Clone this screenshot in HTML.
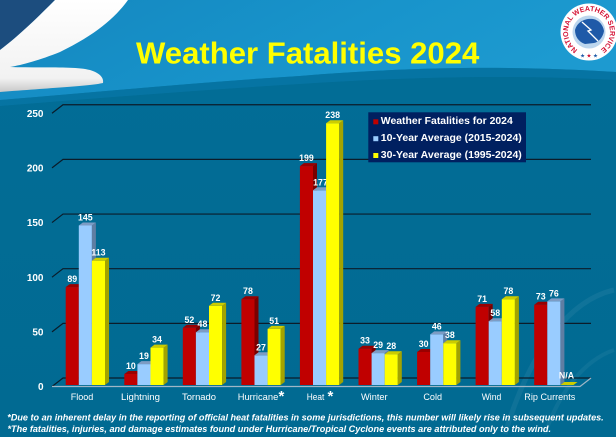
<!DOCTYPE html>
<html><head><meta charset="utf-8"><style>
html,body{margin:0;padding:0;background:#006c94;width:616px;height:437px;overflow:hidden;}
svg{display:block;font-family:"Liberation Sans",Arial,sans-serif;}
.r{fill:#c00000}.rs{fill:#7a0000}.rt{fill:#9a0000}
.b{fill:#99ccff}.bs{fill:#5f7ea3}.bt{fill:#7d9cc4}
.y{fill:#ffff00}.ys{fill:#a3a300}.yt{fill:#cccc00}
.v{fill:#fff;font-size:8.8px;font-weight:bold;text-anchor:middle}
.yl{fill:#fff;font-size:10px;font-weight:bold;text-anchor:end}
.c{fill:#fff;font-size:9.5px;text-anchor:middle}
.g{stroke:#0b1c2a;stroke-width:1.2;fill:none}
</style></head><body>
<svg width="616" height="437" viewBox="0 0 616 437" xmlns="http://www.w3.org/2000/svg">
<defs>
<linearGradient id="top" x1="0" y1="0" x2="1" y2="0.3">
<stop offset="0" stop-color="#1487bf"/><stop offset="0.6" stop-color="#1894cb"/><stop offset="1" stop-color="#1d9ad0"/>
</linearGradient>
<linearGradient id="low" x1="0" y1="0" x2="0" y2="1">
<stop offset="0" stop-color="#0576a2"/><stop offset="0.15" stop-color="#026d96"/><stop offset="1" stop-color="#016a92"/>
</linearGradient>
<linearGradient id="wh" x1="0" y1="0" x2="0" y2="1">
<stop offset="0" stop-color="#ffffff"/><stop offset="0.85" stop-color="#f2f2f2"/><stop offset="1" stop-color="#c8c8c8"/>
</linearGradient>
</defs>
<rect x="0" y="0" width="616" height="437" fill="url(#low)"/>
<path d="M0,0 L616,0 L616,72 C520,66 420,66 300,76 C200,82 100,92 0,100 Z" fill="url(#top)"/>
<path d="M0,100 C100,92 200,82 300,76 C420,66 520,66 616,72 L616,80 C520,75 420,76 300,84 C200,90 100,98 0,106 Z" fill="#0a7aab" opacity="0.6"/>
<path d="M505,434 C530,350 570,300 614,290" fill="none" stroke="#ffffff" stroke-opacity="0.06" stroke-width="5"/>
<path d="M545,434 C560,390 585,360 614,350" fill="none" stroke="#ffffff" stroke-opacity="0.05" stroke-width="4"/>
<path d="M0,0 L55,0 C40,15 20,35 0,50 Z" fill="#1c4d7e"/>
<path d="M55,0 L128,0 C115,18 95,35 60,52 C40,60 22,65 10,67 C40,68 75,66 90,70 C100,73 104,78 103,83 C90,86 50,88 0,92 L0,50 C20,35 40,15 55,0 Z" fill="url(#wh)"/>
<circle cx="589" cy="32" r="28.5" fill="#ffffff"/>
<circle cx="589" cy="32" r="16.5" fill="#bcd6ee"/>
<path d="M575,30 C577,22 585,18 593,19 C599,20 603,25 604,31 C603,37 599,42 594,43 L585,44 C579,42 575,37 575,30 Z" fill="#1f5aa8"/>
<path d="M582,22 L591,30 L588,31 L598,41" fill="none" stroke="#ffffff" stroke-width="1.3"/>
<path id="ring" d="M578.5,50.2 A21,21 0 1 1 599.5,50.2" fill="none"/>
<text font-size="7.2" font-weight="bold" fill="#d41335"><textPath href="#ring" startOffset="1" textLength="107" lengthAdjust="spacingAndGlyphs">NATIONAL WEATHER SERVICE</textPath></text>
<text x="589" y="57.5" font-size="5.5" fill="#1f5aa8" text-anchor="middle">★ <tspan fill="#d41335">★</tspan> ★</text>
<text x="136" y="63.5" font-size="30.5" font-weight="bold" fill="#ffff00" textLength="343.3" lengthAdjust="spacingAndGlyphs">Weather Fatalities 2024</text>

<g class="g">
<path d="M52,331.85 L63,323.35 L591,323.35"/>
<path d="M52,277.2 L63,268.7 L591,268.7"/>
<path d="M52,222.55 L63,214.05 L591,214.05"/>
<path d="M52,167.9 L63,159.4 L591,159.4"/>
<path d="M52,113.25 L63,104.75 L591,104.75"/>
<path d="M52,386.5 L63,378 L591,378"/>
</g>
<path d="M52,386.5 L580,386.5 L591,378" fill="none" stroke="#9fb6c6" stroke-width="1.2"/>
<text class="yl" x="43.5" y="390.1">0</text>
<text class="yl" x="43.5" y="335.4">50</text>
<text class="yl" x="43.5" y="280.8">100</text>
<text class="yl" x="43.5" y="226.1">150</text>
<text class="yl" x="43.5" y="171.5">200</text>
<text class="yl" x="43.5" y="116.8">250</text>

<rect class="r" x="65.7" y="287.1" width="13.1" height="97.9"/><polygon class="rs" points="78.8,287.1 82.8,284.1 82.8,382 78.8,385"/><polygon class="rt" points="65.7,287.1 69.7,284.1 82.8,284.1 78.8,287.1"/><text class="v" x="72.25" y="282.1">89</text>
<rect class="b" x="78.8" y="225.5" width="13.1" height="159.5"/><polygon class="bs" points="91.9,225.5 95.9,222.5 95.9,382 91.9,385"/><polygon class="bt" points="78.8,225.5 82.8,222.5 95.9,222.5 91.9,225.5"/><text class="v" x="85.35" y="220.5">145</text>
<rect class="y" x="91.9" y="260.7" width="13.1" height="124.3"/><polygon class="ys" points="105,260.7 109,257.7 109,382 105,385"/><polygon class="yt" points="91.9,260.7 95.9,257.7 109,257.7 105,260.7"/><text class="v" x="98.45" y="255.7">113</text>
<rect class="r" x="124.3" y="374" width="13.1" height="11"/><polygon class="rs" points="137.4,374 141.4,371 141.4,382 137.4,385"/><polygon class="rt" points="124.3,374 128.3,371 141.4,371 137.4,374"/><text class="v" x="130.85" y="369">10</text>
<rect class="b" x="137.4" y="364.1" width="13.1" height="20.9"/><polygon class="bs" points="150.5,364.1 154.5,361.1 154.5,382 150.5,385"/><polygon class="bt" points="137.4,364.1 141.4,361.1 154.5,361.1 150.5,364.1"/><text class="v" x="143.95" y="359.1">19</text>
<rect class="y" x="150.5" y="347.6" width="13.1" height="37.4"/><polygon class="ys" points="163.6,347.6 167.6,344.6 167.6,382 163.6,385"/><polygon class="yt" points="150.5,347.6 154.5,344.6 167.6,344.6 163.6,347.6"/><text class="v" x="157.05" y="342.6">34</text>
<rect class="r" x="182.8" y="327.8" width="13.1" height="57.2"/><polygon class="rs" points="195.9,327.8 199.9,324.8 199.9,382 195.9,385"/><polygon class="rt" points="182.8,327.8 186.8,324.8 199.9,324.8 195.9,327.8"/><text class="v" x="189.35" y="322.8">52</text>
<rect class="b" x="195.9" y="332.2" width="13.1" height="52.8"/><polygon class="bs" points="209,332.2 213,329.2 213,382 209,385"/><polygon class="bt" points="195.9,332.2 199.9,329.2 213,329.2 209,332.2"/><text class="v" x="202.45" y="327.2">48</text>
<rect class="y" x="209" y="305.8" width="13.1" height="79.2"/><polygon class="ys" points="222.1,305.8 226.1,302.8 226.1,382 222.1,385"/><polygon class="yt" points="209,305.8 213,302.8 226.1,302.8 222.1,305.8"/><text class="v" x="215.55" y="300.8">72</text>
<rect class="r" x="241.4" y="299.2" width="13.1" height="85.8"/><polygon class="rs" points="254.5,299.2 258.5,296.2 258.5,382 254.5,385"/><polygon class="rt" points="241.4,299.2 245.4,296.2 258.5,296.2 254.5,299.2"/><text class="v" x="247.95" y="294.2">78</text>
<rect class="b" x="254.5" y="355.3" width="13.1" height="29.7"/><polygon class="bs" points="267.6,355.3 271.6,352.3 271.6,382 267.6,385"/><polygon class="bt" points="254.5,355.3 258.5,352.3 271.6,352.3 267.6,355.3"/><text class="v" x="261.05" y="350.3">27</text>
<rect class="y" x="267.6" y="328.9" width="13.1" height="56.1"/><polygon class="ys" points="280.7,328.9 284.7,325.9 284.7,382 280.7,385"/><polygon class="yt" points="267.6,328.9 271.6,325.9 284.7,325.9 280.7,328.9"/><text class="v" x="274.15" y="323.9">51</text>
<rect class="r" x="299.9" y="166.1" width="13.1" height="218.9"/><polygon class="rs" points="313,166.1 317,163.1 317,382 313,385"/><polygon class="rt" points="299.9,166.1 303.9,163.1 317,163.1 313,166.1"/><text class="v" x="306.45" y="161.1">199</text>
<rect class="b" x="313" y="190.3" width="13.1" height="194.7"/><polygon class="bs" points="326.1,190.3 330.1,187.3 330.1,382 326.1,385"/><polygon class="bt" points="313,190.3 317,187.3 330.1,187.3 326.1,190.3"/><text class="v" x="320.5" y="185.3">177</text>
<rect class="y" x="326.1" y="123.2" width="13.1" height="261.8"/><polygon class="ys" points="339.2,123.2 343.2,120.2 343.2,382 339.2,385"/><polygon class="yt" points="326.1,123.2 330.1,120.2 343.2,120.2 339.2,123.2"/><text class="v" x="332.65" y="118.2">238</text>
<rect class="r" x="358.5" y="348.7" width="13.1" height="36.3"/><polygon class="rs" points="371.6,348.7 375.6,345.7 375.6,382 371.6,385"/><polygon class="rt" points="358.5,348.7 362.5,345.7 375.6,345.7 371.6,348.7"/><text class="v" x="365.05" y="343.7">33</text>
<rect class="b" x="371.6" y="353.1" width="13.1" height="31.9"/><polygon class="bs" points="384.7,353.1 388.7,350.1 388.7,382 384.7,385"/><polygon class="bt" points="371.6,353.1 375.6,350.1 388.7,350.1 384.7,353.1"/><text class="v" x="378.15" y="348.1">29</text>
<rect class="y" x="384.7" y="354.2" width="13.1" height="30.8"/><polygon class="ys" points="397.8,354.2 401.8,351.2 401.8,382 397.8,385"/><polygon class="yt" points="384.7,354.2 388.7,351.2 401.8,351.2 397.8,354.2"/><text class="v" x="391.25" y="349.2">28</text>
<rect class="r" x="417.1" y="352" width="13.1" height="33"/><polygon class="rs" points="430.2,352 434.2,349 434.2,382 430.2,385"/><polygon class="rt" points="417.1,352 421.1,349 434.2,349 430.2,352"/><text class="v" x="423.65" y="347">30</text>
<rect class="b" x="430.2" y="334.4" width="13.1" height="50.6"/><polygon class="bs" points="443.3,334.4 447.3,331.4 447.3,382 443.3,385"/><polygon class="bt" points="430.2,334.4 434.2,331.4 447.3,331.4 443.3,334.4"/><text class="v" x="436.75" y="329.4">46</text>
<rect class="y" x="443.3" y="343.2" width="13.1" height="41.8"/><polygon class="ys" points="456.4,343.2 460.4,340.2 460.4,382 456.4,385"/><polygon class="yt" points="443.3,343.2 447.3,340.2 460.4,340.2 456.4,343.2"/><text class="v" x="449.85" y="338.2">38</text>
<rect class="r" x="475.6" y="306.9" width="13.1" height="78.1"/><polygon class="rs" points="488.7,306.9 492.7,303.9 492.7,382 488.7,385"/><polygon class="rt" points="475.6,306.9 479.6,303.9 492.7,303.9 488.7,306.9"/><text class="v" x="482.15" y="301.9">71</text>
<rect class="b" x="488.7" y="321.2" width="13.1" height="63.8"/><polygon class="bs" points="501.8,321.2 505.8,318.2 505.8,382 501.8,385"/><polygon class="bt" points="488.7,321.2 492.7,318.2 505.8,318.2 501.8,321.2"/><text class="v" x="495.25" y="316.2">58</text>
<rect class="y" x="501.8" y="299.2" width="13.1" height="85.8"/><polygon class="ys" points="514.9,299.2 518.9,296.2 518.9,382 514.9,385"/><polygon class="yt" points="501.8,299.2 505.8,296.2 518.9,296.2 514.9,299.2"/><text class="v" x="508.35" y="294.2">78</text>
<rect class="r" x="534.2" y="304.7" width="13.1" height="80.3"/><polygon class="rs" points="547.3,304.7 551.3,301.7 551.3,382 547.3,385"/><polygon class="rt" points="534.2,304.7 538.2,301.7 551.3,301.7 547.3,304.7"/><text class="v" x="540.75" y="299.7">73</text>
<rect class="b" x="547.3" y="301.4" width="13.1" height="83.6"/><polygon class="bs" points="560.4,301.4 564.4,298.4 564.4,382 560.4,385"/><polygon class="bt" points="547.3,301.4 551.3,298.4 564.4,298.4 560.4,301.4"/><text class="v" x="553.85" y="296.4">76</text>
<polygon class="yt" points="560.4,385 564.4,382 577.5,382 573.5,385"/><text class="v" x="566.5" y="378.5">N/A</text>

<text class="c" x="82" y="400" textLength="22.6" lengthAdjust="spacingAndGlyphs">Flood</text>
<text class="c" x="140.5" y="400" textLength="39" lengthAdjust="spacingAndGlyphs">Lightning</text>
<text class="c" x="199" y="400" textLength="34" lengthAdjust="spacingAndGlyphs">Tornado</text>
<text class="c" x="258" y="400" textLength="40.6" lengthAdjust="spacingAndGlyphs">Hurricane</text>
<text x="278.5" y="401" font-size="15" font-weight="bold" fill="#fff">*</text>
<text class="c" x="315.5" y="400" textLength="17.6" lengthAdjust="spacingAndGlyphs">Heat</text>
<text x="327.5" y="401" font-size="15" font-weight="bold" fill="#fff">*</text>
<text class="c" x="374.3" y="400" textLength="26.7" lengthAdjust="spacingAndGlyphs">Winter</text>
<text class="c" x="432.7" y="400" textLength="18.7" lengthAdjust="spacingAndGlyphs">Cold</text>
<text class="c" x="491.5" y="400" textLength="19.6" lengthAdjust="spacingAndGlyphs">Wind</text>
<text class="c" x="549.8" y="400" textLength="51" lengthAdjust="spacingAndGlyphs">Rip Currents</text>

<rect x="368.3" y="112.3" width="157.7" height="50" fill="#002060"/>
<rect x="373.3" y="119.3" width="5" height="5" fill="#c00000"/>
<rect x="373.3" y="136.2" width="5" height="5" fill="#99ccff"/>
<rect x="373.3" y="153" width="5" height="5" fill="#ffff00"/>
<g fill="#fff" font-size="10.5" font-weight="bold">
<text x="380.8" y="124" textLength="132" lengthAdjust="spacingAndGlyphs">Weather Fatalities for 2024</text>
<text x="380.8" y="141" textLength="141" lengthAdjust="spacingAndGlyphs">10-Year Average (2015-2024)</text>
<text x="380.8" y="158" textLength="141" lengthAdjust="spacingAndGlyphs">30-Year Average (1995-2024)</text>
</g>

<g fill="#fff" font-size="9" font-weight="bold" font-style="italic">
<text x="7.3" y="420.6" textLength="596.4" lengthAdjust="spacingAndGlyphs">*Due to an inherent delay in the reporting of official heat fatalities in some jurisdictions, this number will likely rise in subsequent updates.</text>
<text x="7.5" y="432" textLength="543.5" lengthAdjust="spacingAndGlyphs">*The fatalities, injuries, and damage estimates found under Hurricane/Tropical Cyclone events are attributed only to the wind.</text>
</g>
</svg>
</body></html>
